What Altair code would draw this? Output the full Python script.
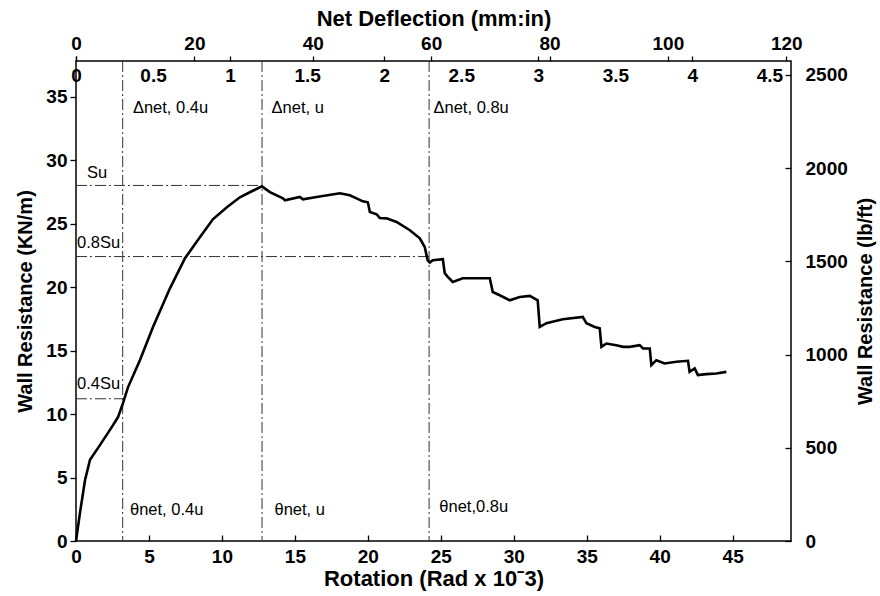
import altair as alt
import pandas as pd

# ---- curve data (rotation in rad x 10^-3, wall resistance in kN/m) ----
rotation = [0, 0.27, 0.62, 0.96, 1.64, 2.45, 2.88, 3.22, 3.56, 4.38, 5.27, 6.44, 7.47, 8.49,
            9.38, 10.34, 11.23, 12.05, 12.74, 13.29, 14.18, 14.32, 15.34, 15.55, 16.49, 18.08,
            18.77, 19.66, 20.0, 20.14, 20.6, 20.82, 21.28, 21.97, 22.88, 23.56, 23.9, 24.1,
            24.25, 24.45, 25.14, 25.27, 25.48, 25.82, 26.5, 28.36, 28.56, 29.04, 29.73, 30.41,
            31.1, 31.64, 31.78, 32.24, 33.36, 34.73, 34.98, 35.55, 35.89, 36.01, 36.35, 37.03,
            37.49, 37.95, 38.63, 38.86, 39.32, 39.43, 39.77, 40.34, 41.14, 41.94, 42.05, 42.4,
            42.62, 43.2, 43.88, 44.57]
resistance = [0, 2.2, 4.8, 6.4, 7.55, 8.97, 9.76, 10.86, 12.1, 14.24, 16.84, 19.9, 22.27, 23.92,
              25.33, 26.28, 27.07, 27.54, 27.93, 27.48, 26.99, 26.83, 27.09, 26.91, 27.09, 27.38,
              27.22, 26.75, 26.67, 25.91, 25.73, 25.44, 25.41, 25.12, 24.47, 23.84, 23.15, 22.1,
              21.93, 22.11, 22.19, 21.09, 20.8, 20.4, 20.69, 20.69, 19.61, 19.35, 18.96, 19.22,
              19.3, 18.96, 16.86, 17.15, 17.47, 17.65, 17.15, 16.86, 16.76, 15.29, 15.55, 15.42,
              15.29, 15.29, 15.42, 15.16, 15.16, 13.85, 14.24, 13.98, 14.11, 14.19, 13.32, 13.59,
              13.06, 13.14, 13.19, 13.32]

# ---- reference levels ----
ref_rotation = [3.2, 12.75, 24.2]     # θnet 0.4u, u, 0.8u
ref_level = [11.2, 28.0, 22.4]        # 0.4Su, Su, 0.8Su (each ends at matching rotation)

# ---- annotations ----
note_text = ["Δnet, 0.4u", "Δnet, u", "Δnet, 0.8u",
             "θnet, 0.4u", "θnet, u", "θnet,0.8u",
             "Su", "0.8Su", "0.4Su"]
note_x = [3.9, 13.4, 24.5, 3.7, 13.6, 24.9, 0.75, 0.07, 0.07]
note_y = [34.1, 34.1, 34.1, 2.45, 2.45, 2.7, 29.0, 23.45, 12.35]

# ---- axis ticks ----
rot_ticks = [0, 5, 10, 15, 20, 25, 30, 35, 40, 45]
kn_ticks = [0, 5, 10, 15, 20, 25, 30, 35]
mm_ticks = [0, 20, 40, 60, 80, 100, 120]
inch_ticks = [0, 0.5, 1, 1.5, 2, 2.5, 3, 3.5, 4, 4.5]
lbft_ticks = [0, 500, 1000, 1500, 2000, 2500]

ROT_MAX = 49.0
KN_MAX = 37.8
MM_MAX = 120.8
IN_MAX = 4.64
LB_MAX = 2575

FONT = "Liberation Sans"
W, H = 715, 480


def rot_scale():
    return alt.Scale(domain=[0, ROT_MAX], nice=False, zero=False)


def kn_scale():
    return alt.Scale(domain=[0, KN_MAX], nice=False, zero=False)


curve_df = pd.DataFrame({"rot": rotation, "kn": resistance, "i": range(len(rotation))})
vref_df = pd.DataFrame({"rot": ref_rotation})
href_df = pd.DataFrame({"x0": [0] * len(ref_rotation), "x1": ref_rotation, "kn": ref_level})
note_df = pd.DataFrame({"x": note_x, "y": note_y, "t": note_text})


def ax(title_size=22, **kw):
    base = dict(labelFont=FONT, labelFontSize=19, labelFontWeight="bold", labelColor="black",
                titleFont=FONT, titleFontSize=title_size, titleFontWeight="bold",
                titleColor="black", domain=False, grid=False, labelFlush=False,
                tickColor="black", tickWidth=1.3, format="d")
    base.update(kw)
    return alt.Axis(**base)


curve = alt.Chart(curve_df).mark_line(color="black", strokeWidth=2.6).encode(
    x=alt.X("rot:Q", scale=rot_scale(),
            axis=ax(orient="bottom", values=rot_ticks, ticks=False, tickSize=0,
                    labelPadding=6, title="Rotation (Rad x 10ˉ3)", titlePadding=2)),
    y=alt.Y("kn:Q", scale=kn_scale(),
            axis=ax(title_size=20, orient="left", values=kn_ticks, tickSize=6, labelPadding=3,
                    title="Wall Resistance (KN/m)", titlePadding=10)),
    order="i:Q",
)

dash = [11, 3, 2, 3]
vlines = alt.Chart(vref_df).mark_rule(color="#333333", strokeWidth=1, strokeDash=dash).encode(
    x=alt.X("rot:Q", scale=rot_scale(), axis=None),
)
hlines = alt.Chart(href_df).mark_rule(color="#333333", strokeWidth=1, strokeDash=dash).encode(
    x=alt.X("x0:Q", scale=rot_scale(), axis=None),
    x2="x1:Q",
    y=alt.Y("kn:Q", scale=kn_scale(), axis=None),
)
notes = alt.Chart(note_df).mark_text(font=FONT, fontSize=16.5, align="left", baseline="middle",
                                     color="black").encode(
    x=alt.X("x:Q", scale=rot_scale(), axis=None),
    y=alt.Y("y:Q", scale=kn_scale(), axis=None),
    text="t:N",
)

# bottom inward ticks
bottom_ticks = alt.Chart(pd.DataFrame({"rot": rot_ticks})).mark_point(opacity=0).encode(
    x=alt.X("rot:Q", scale=rot_scale(),
            axis=ax(orient="bottom", offset=-6, values=rot_ticks, labels=False,
                    tickSize=6, title=None)),
)

# top mm axis
mm_axis = alt.Chart(pd.DataFrame({"mm": mm_ticks})).mark_point(opacity=0).encode(
    x=alt.X("mm:Q", scale=alt.Scale(domain=[0, MM_MAX], nice=False, zero=False),
            axis=ax(orient="top", values=mm_ticks, tickSize=5, labelPadding=3,
                    title="Net Deflection (mm:in)", titlePadding=4)),
)
# inch ticks (outward on top)
inch_tick_axis = alt.Chart(pd.DataFrame({"inch": inch_ticks})).mark_point(opacity=0).encode(
    x=alt.X("inch:Q", scale=alt.Scale(domain=[0, IN_MAX], nice=False, zero=False),
            axis=ax(orient="top", values=inch_ticks, labels=False, tickSize=5, title=None)),
)
# inch labels (inside the frame)
inch_label_axis = alt.Chart(pd.DataFrame({"inch2": inch_ticks})).mark_point(opacity=0).encode(
    x=alt.X("inch2:Q", scale=alt.Scale(domain=[0, IN_MAX], nice=False, zero=False),
            axis=ax(orient="top", offset=-24, values=inch_ticks, ticks=False, tickSize=0,
                    labelPadding=0, title=None, format=".1~f")),
)

# right lb/ft axis (labels) and inward ticks
lb_scale = dict(domain=[0, LB_MAX], nice=False, zero=False)
right_labels = alt.Chart(pd.DataFrame({"lb": lbft_ticks})).mark_point(opacity=0).encode(
    y=alt.Y("lb:Q", scale=alt.Scale(**lb_scale),
            axis=ax(title_size=20, orient="right", values=lbft_ticks, ticks=False, tickSize=0,
                    labelPadding=14, title="Wall Resistance (lb/ft)", titleAngle=270,
                    titleBaseline="top", titlePadding=8)),
)
right_ticks = alt.Chart(pd.DataFrame({"lb2": lbft_ticks})).mark_point(opacity=0).encode(
    y=alt.Y("lb2:Q", scale=alt.Scale(**lb_scale),
            axis=ax(orient="right", offset=-6, values=lbft_ticks, labels=False,
                    tickSize=6, title=None)),
)

chart = alt.layer(
    vlines, hlines, curve, notes, bottom_ticks, mm_axis, inch_tick_axis, inch_label_axis,
    right_labels, right_ticks,
).resolve_scale(x="independent", y="independent").properties(
    width=W, height=H,
    autosize=alt.AutoSizeParams(type="none"),
    padding={"left": 76, "top": 61, "right": 89, "bottom": 55},
    background="white",
).configure_view(stroke="black", strokeWidth=1.5)

chart.save("out.html", embed_options={"renderer": "svg", "actions": False})
